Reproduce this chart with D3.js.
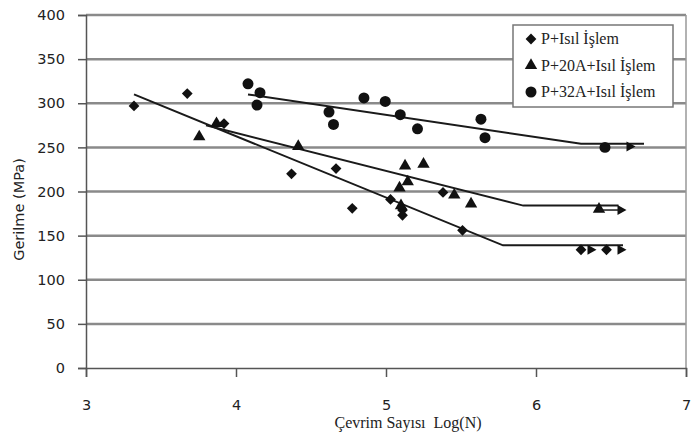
<!DOCTYPE html>
<html>
<head>
<meta charset="utf-8">
<script src="https://cdn.jsdelivr.net/npm/d3@7"></script>
<style>
  html, body { margin: 0; padding: 0; background: #fff; }
  svg { display: block; }
</style>
</head>
<body>
<svg id="chart" width="697" height="435"></svg>
<script>
// ---- data ----
const xTicks = [3, 4, 5, 6, 7];
const yTicks = [0, 50, 100, 150, 200, 250, 300, 350, 400];
const seriesNames = ["P+Isıl İşlem", "P+20A+Isıl İşlem", "P+32A+Isıl İşlem"];

// P+Isıl İşlem (diamonds)
const diamondX = [3.32, 3.675, 3.92, 4.37, 4.667, 4.775, 5.03, 5.11, 5.11, 5.38, 5.51, 6.30, 6.47];
const diamondY = [297, 311, 277, 220, 226, 181, 191, 179, 173, 199, 156, 134, 134];
const diamondRunX = [6.37, 6.57];
const diamondRunY = [134, 134];
const diamondTrendX = [3.32, 5.78, 6.58];
const diamondTrendY = [310, 139, 139];

// P+20A+Isıl İşlem (triangles)
const triX = [3.755, 3.87, 4.415, 5.09, 5.10, 5.127, 5.145, 5.25, 5.455, 5.567, 6.42];
const triY = [262, 277, 251, 204, 184, 229, 211, 231, 196, 186, 180];
const triRunX = [6.57];
const triRunY = [179];
const triTrendX = [3.80, 5.915, 6.55];
const triTrendY = [275, 184, 184];

// P+32A+Isıl İşlem (circles)
const circX = [4.08, 4.16, 4.14, 4.62, 4.65, 4.853, 4.995, 5.095, 5.21, 5.633, 5.66, 6.46];
const circY = [322, 312, 298, 290, 276, 306, 302, 287, 271, 282, 261, 250];
const circRunX = [6.63];
const circRunY = [251];
const circTrendX = [4.08, 6.30, 6.72];
const circTrendY = [310, 254, 254];

// ---- chart ----
const svg = d3.select("#chart");
const x = d3.scaleLinear().domain([3, 7]).range([86, 686]);
const y = d3.scaleLinear().domain([0, 400]).range([368, 15]);

// gridlines
svg.append("g").selectAll("line").data(yTicks.filter(d => d > 0)).join("line")
  .attr("x1", x(3)).attr("x2", x(7))
  .attr("y1", d => y(d)).attr("y2", d => y(d))
  .attr("stroke", "#8a8a8a").attr("stroke-width", 2.5);

// right border
svg.append("line").attr("x1", x(7)).attr("x2", x(7)).attr("y1", y(400)).attr("y2", y(0))
  .attr("stroke", "#999").attr("stroke-width", 1.5);

// axes
const yAxis = svg.append("g").attr("transform", `translate(${x(3)},0)`)
  .call(d3.axisLeft(y).tickValues(yTicks).tickSize(8).tickPadding(13).tickFormat(d3.format("d")));
const xAxis = svg.append("g").attr("transform", `translate(0,${y(0)})`)
  .call(d3.axisBottom(x).tickValues(xTicks).tickSize(9).tickFormat(d3.format("d")));
[yAxis, xAxis].forEach(a => {
  a.select(".domain").attr("stroke", "#555").attr("stroke-width", 1.5);
  a.selectAll(".tick line").attr("stroke", "#555").attr("stroke-width", 1.5);
  a.selectAll(".tick text").attr("fill", "#222")
    .style("font-family", "'DejaVu Sans', Verdana, sans-serif").style("font-size", "14.5px");
});
xAxis.selectAll(".tick text").attr("y", 42).attr("dy", 0);

// axis titles
svg.append("text")
  .attr("transform", `translate(24,${(y(0) + y(400)) / 2 + 18}) rotate(-90)`)
  .attr("text-anchor", "middle")
  .style("font-family", "'DejaVu Sans', Verdana, sans-serif").style("font-size", "14.5px")
  .attr("fill", "#222")
  .text("Gerilme (MPa)");
svg.append("text")
  .attr("x", 408).attr("y", 428)
  .attr("text-anchor", "middle")
  .style("font-family", "'Liberation Serif', 'Times New Roman', serif").style("font-size", "16px")
  .style("white-space", "pre")
  .attr("fill", "#222")
  .text("Çevrim Sayısı  Log(N)");

// trend lines
const line = d3.line().x(d => x(d[0])).y(d => y(d[1]));
[[diamondTrendX, diamondTrendY], [triTrendX, triTrendY], [circTrendX, circTrendY]].forEach(([xs, ys]) => {
  svg.append("path").datum(xs.map((v, i) => [v, ys[i]]))
    .attr("d", line).attr("fill", "none").attr("stroke", "#1a1a1a").attr("stroke-width", 2);
});

// symbols
const diamondPath = d3.symbol().type(d3.symbolSquare).size(58)();
const triPath = d3.symbol().type(d3.symbolTriangle).size(66)();
const circPath = d3.symbol().type(d3.symbolCircle).size(95)();
const arrowPath = "M-4,-5L5,0L-4,5Z";

function drawPts(xs, ys, path, rot) {
  svg.append("g").selectAll("path").data(xs.map((v, i) => [v, ys[i]])).join("path")
    .attr("d", path)
    .attr("transform", d => `translate(${x(d[0])},${y(d[1])})` + (rot ? ` rotate(${rot})` : ""))
    .attr("fill", "#111");
}
drawPts(diamondX, diamondY, diamondPath, 45);
drawPts(triX, triY, triPath, 0);
drawPts(circX, circY, circPath, 0);
drawPts(diamondRunX, diamondRunY, arrowPath, 0);
drawPts(triRunX, triRunY, arrowPath, 0);
drawPts(circRunX, circRunY, arrowPath, 0);
// runout connector for triangle series
svg.append("line").attr("x1", x(triX[triX.length - 1])).attr("x2", x(triRunX[0]))
  .attr("y1", y(triRunY[0])).attr("y2", y(triRunY[0])).attr("stroke", "#1a1a1a").attr("stroke-width", 1.5);

// legend
const lg = svg.append("g");
lg.append("rect").attr("x", 513).attr("y", 25).attr("width", 160).attr("height", 82)
  .attr("fill", "#fff").attr("stroke", "#777").attr("stroke-width", 1.5);
const legendPaths = [[diamondPath, 45], [triPath, 0], [circPath, 0]];
seriesNames.forEach((name, i) => {
  const cy = 39 + i * 26.5;
  lg.append("path").attr("d", legendPaths[i][0])
    .attr("transform", `translate(531,${cy})` + (legendPaths[i][1] ? ` rotate(45)` : ""))
    .attr("fill", "#111");
  lg.append("text").attr("x", 541).attr("y", cy + 5)
    .style("font-family", "'Liberation Serif', 'Times New Roman', serif").style("font-size", "16px")
    .attr("fill", "#222")
    .text(name);
});
</script>
</body>
</html>
